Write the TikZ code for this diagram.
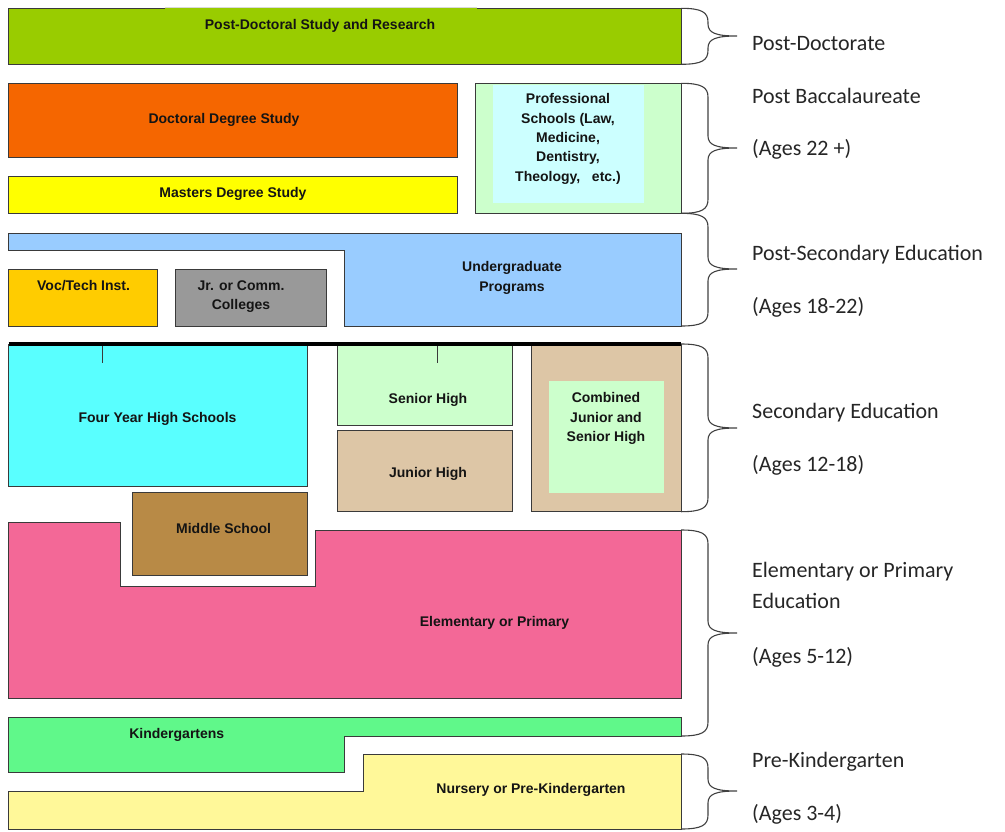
\documentclass[tikz,border=0pt]{standalone}
\usepackage{fontspec}
\setmainfont{Carlito}
\newfontfamily\arialf{Liberation Sans}
\definecolor{edge}{HTML}{3A3A3A}
\definecolor{txt}{HTML}{141414}
\definecolor{stxt}{HTML}{262626}
\definecolor{bracec}{HTML}{404040}
\definecolor{cpostdoc}{HTML}{99CC00}
\definecolor{cdoc}{HTML}{F56600}
\definecolor{cmast}{HTML}{FFFF00}
\definecolor{cprofo}{HTML}{CCFFCC}
\definecolor{cprofi}{HTML}{CCFFFF}
\definecolor{cunder}{HTML}{99CCFF}
\definecolor{cvoc}{HTML}{FFCC00}
\definecolor{cjr}{HTML}{999999}
\definecolor{cfour}{HTML}{59FFFF}
\definecolor{csen}{HTML}{CCFFCC}
\definecolor{cjun}{HTML}{DDC6A6}
\definecolor{cmid}{HTML}{B88A46}
\definecolor{celem}{HTML}{F36897}
\definecolor{ckind}{HTML}{60F88A}
\definecolor{cnurs}{HTML}{FFF899}
\tikzset{
  blk/.style={draw=edge, line width=0.9pt},
  lbl/.style={font=\arialf\bfseries\fontsize{14}{19.4}\selectfont, text=txt, inner sep=0pt, align=center},
  one/.style={text height=10pt, text depth=0pt},
  side/.style={font=\fontsize{22}{26}\selectfont, text=stxt, anchor=base west, inner sep=0pt},
  brace/.style={draw=bracec, line width=1.1pt},
}
\newcommand\mybrace[3]{%
  \draw[brace] (681,#1) .. controls (702,#1) and (708,#1+4) .. (708,#1+14)
    -- (708,#2-12) .. controls (708,#2-3) and (716,#2) .. (737,#2)
    .. controls (716,#2) and (708,#2+3) .. (708,#2+12)
    -- (708,#3-14) .. controls (708,#3-4) and (702,#3) .. (681,#3);}
\begin{document}
\begin{tikzpicture}[x=1pt,y=-1pt]
\useasboundingbox (0,0) rectangle (1005,831);
% Post-doctoral
\path[fill=cpostdoc] (8.5,8.3) rectangle (681,64.3);
\draw[edge, line width=0.9pt] (165,8.3) -- (8.5,8.3) -- (8.5,64.3) -- (681,64.3) -- (681,8.3) -- (477,8.3);
\draw[gray!30, line width=0.6pt] (165,7.6) -- (477,7.6);
\node[lbl,one] (postdoc) at (320,24) {Post-Doctoral Study and Research};
% Doctoral
\path[blk, fill=cdoc] (8.5,83.3) rectangle (457,157.3);
\node[lbl,one] (doc) at (224,118.3) {Doctoral Degree Study};
% Masters
\path[blk, fill=cmast] (8.5,176) rectangle (457,213.3);
\node[lbl,one] (mast) at (233,192.3) {Masters Degree Study};
% Professional
\path[blk, fill=cprofo] (475.2,83.3) rectangle (681,213.3);
\path[fill=cprofi] (493,85) rectangle (643.5,203);
\node[lbl] (prof) at (568,139) {Professional\\Schools (Law,\\Medicine,\\Dentistry,\\Theology,\ \ \ etc.)};
% Undergraduate
\path[blk, fill=cunder] (8.5,233.3) -- (681,233.3) -- (681,326) -- (344.8,326) -- (344.8,250.7) -- (8.5,250.7) -- cycle;
\node[lbl] (under) at (512,278) {Undergraduate\\Programs};
% Voc/Tech
\path[blk, fill=cvoc] (8.5,269.3) rectangle (157.5,326);
\node[lbl,one] (voc) at (83.6,285) {Voc/Tech Inst.};
% Jr or Comm
\path[blk, fill=cjr] (175.8,269.3) rectangle (326,326);
\node[lbl] (jr) at (241,296.5) {Jr. or Comm.\\Colleges};
% Four year high
\path[blk, fill=cfour] (8.5,344) rectangle (307.6,486.7);
\draw[edge, line width=0.9pt] (102,344) -- (102,362.7);
\node[lbl,one] (four) at (157.5,417) {Four Year High Schools};
% Senior high
\path[blk, fill=csen] (337.5,344) rectangle (512.8,425.7);
\draw[edge, line width=0.9pt] (437.6,344) -- (437.6,362.7);
\node[lbl,one] (sen) at (428,398) {Senior High};
% Junior high
\path[blk, fill=cjun] (337.5,430.3) rectangle (512.8,511.7);
\node[lbl,one] (jun) at (428,472) {Junior High};
% Combined
\path[blk, fill=cjun] (531.7,344) rectangle (681,511.7);
\path[fill=csen] (548.7,380.7) rectangle (663.5,493.3);
\node[lbl] (comb) at (606,418.5) {Combined\\Junior and\\Senior High};
% thick line
\draw[line width=4pt, black] (8.5,344) -- (681,344);
% Middle school
\path[blk, fill=cmid] (132.2,492.7) rectangle (307.6,575.3);
\node[lbl,one] (mid) at (223.6,528) {Middle School};
% Elementary
\path[blk, fill=celem] (8.5,522.7) -- (120.8,522.7) -- (120.8,586.7) -- (315.9,586.7) -- (315.9,530) -- (681,530) -- (681,698.3) -- (8.5,698.3) -- cycle;
\node[lbl,one] (elem) at (494.5,621) {Elementary or Primary};
% Kindergartens
\path[blk, fill=ckind] (8.5,717.3) -- (681,717.3) -- (681,736.7) -- (344.8,736.7) -- (344.8,772.7) -- (8.5,772.7) -- cycle;
\node[lbl,one] (kind) at (176.8,733) {Kindergartens};
% Nursery
\path[blk, fill=cnurs] (8.5,791.7) -- (363.6,791.7) -- (363.6,754.3) -- (681,754.3) -- (681,829.3) -- (8.5,829.3) -- cycle;
\node[lbl,one] (nurs) at (531,788) {Nursery or Pre-Kindergarten};
% Braces
\mybrace{8.3}{36}{64.3}
\mybrace{83.3}{148}{213.3}
\mybrace{213.3}{269}{326}
\mybrace{344}{428}{511.7}
\mybrace{530}{633}{736}
\mybrace{754}{791}{829}
% Side labels
\node[side] (l1) at (752,50) {Post-Doctorate};
\node[side] (l2) at (752,103) {Post Baccalaureate};
\node[side] (l3) at (752,155) {(Ages 22 +)};
\node[side] (l4) at (752,260) {Post-Secondary Education};
\node[side] (l5) at (752,313) {(Ages 18-22)};
\node[side] (l6) at (752,418) {Secondary Education};
\node[side] (l7) at (752,471) {(Ages 12-18)};
\node[side] (l8) at (752,577) {Elementary or Primary};
\node[side] (l9) at (752,608) {Education};
\node[side] (l10) at (752,663) {(Ages 5-12)};
\node[side] (l11) at (752,767) {Pre-Kindergarten};
\node[side] (l12) at (752,820) {(Ages 3-4)};
\end{tikzpicture}
\end{document}
